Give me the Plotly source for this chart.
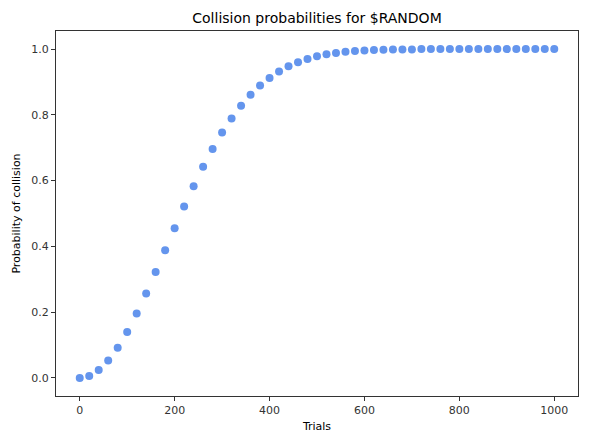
import plotly.graph_objects as go

# trials (0..1000 step 20) and probabilities
trials = [0, 20, 40, 60, 80, 100, 120, 140, 160, 180,
          200, 220, 240, 260, 280, 300, 320, 340, 360, 380,
          400, 420, 440, 460, 480, 500, 520, 540, 560, 580,
          600, 620, 640, 660, 680, 700, 720, 740, 760, 780,
          800, 820, 840, 860, 880, 900, 920, 940, 960, 980, 1000]
probability = [0.0, 0.006, 0.024, 0.053, 0.092, 0.140, 0.196, 0.257, 0.322, 0.388,
               0.455, 0.521, 0.583, 0.642, 0.696, 0.746, 0.789, 0.828, 0.861, 0.889,
               0.912, 0.932, 0.948, 0.960, 0.970, 0.978, 0.984, 0.988, 0.992, 0.994,
               0.996, 0.997, 0.998, 0.999, 0.999, 0.999, 1.0, 1.0, 1.0, 1.0,
               1.0, 1.0, 1.0, 1.0, 1.0, 1.0, 1.0, 1.0, 1.0, 1.0, 1.0]

font = "DejaVu Sans"

fig = go.Figure(
    data=[
        go.Scatter(x=trials, y=probability, mode="markers",
                   marker=dict(color="#6495ED", size=8, line=dict(width=0)),
                   showlegend=False)
    ])

axis_style = dict(
    showgrid=False, zeroline=False, showline=True, linecolor="#333333", linewidth=1,
    mirror=True, ticks="outside", ticklen=4, tickcolor="#333333",
    tickfont=dict(family=font, size=11, color="#333333"),
)

# page body has an 8px margin, so the figure is a bit smaller than the window
fig.update_layout(
    width=577, height=429,
    margin=dict(l=48, r=7, t=23, b=41),
    paper_bgcolor="white", plot_bgcolor="white",
    title=dict(text="Collision probabilities for $RANDOM", xref="paper", x=0.5, xanchor="center",
               y=0.977, yanchor="middle", font=dict(family=font, size=14, color="black")),
    xaxis=dict(axis_style, range=[-50, 1050], tickvals=[0, 200, 400, 600, 800, 1000],
               title=dict(text="Trials", font=dict(family=font, size=11, color="black"), standoff=6)),
    yaxis=dict(axis_style, range=[-0.055, 1.055], tickvals=[0, 0.2, 0.4, 0.6, 0.8, 1.0],
               tickformat=".1f",
               title=dict(text="Probability of collision", font=dict(family=font, size=11, color="black"), standoff=8)),
)

fig.write_html("out.html")
